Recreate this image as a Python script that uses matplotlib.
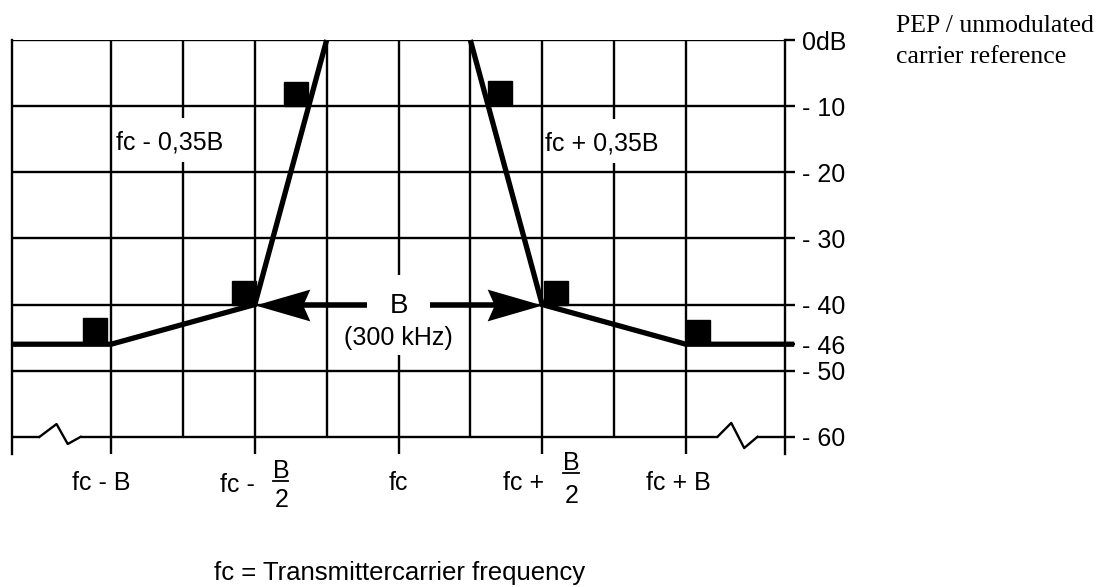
import matplotlib
matplotlib.use("Agg")
import matplotlib.pyplot as plt
from matplotlib.path import Path
from matplotlib.patches import Rectangle

# ---------------- data (x in units of B relative to fc, y in dB) ----------------
left_trace_x = [-1.345, -1.0, -0.5, -0.25]
left_trace_y = [-46, -46, -40, 0]
right_trace_x = [0.25, 0.5, 1.0, 1.377]
right_trace_y = [0, -40, -46, -46]

mask_x = [-1.056, -0.537, -0.357, 0.353, 0.548, 1.043]
mask_y = [-43.9, -38.3, -8.2, -8.0, -38.2, -44.1]

ytick_values = [0, -10, -20, -30, -40, -46, -50, -60]
ytick_labels = ["0dB", "- 10", "- 20", "- 30", "- 40", "- 46", "- 50", "- 60"]

grid_y = [0, -10, -20, -30, -40, -50]
major_x = [-1.0, -0.5, 0.0, 0.5, 1.0]
minor_x = [-0.75, -0.25, 0.25, 0.75]

# ---------------- figure ----------------
W, H = 1109, 587
fig = plt.figure(figsize=(W / 100, H / 100), dpi=100)
ax = fig.add_axes([12 / W, 1 - 454 / H, 773 / W, 414 / H])
XMIN, XMAX = -1.345, 1.345
YMIN, YMAX = -62.6, 0
ax.set_xlim(XMIN, XMAX)
ax.set_ylim(YMIN, YMAX)

sans = ["Liberation Sans", "DejaVu Sans"]
serif = ["Liberation Serif", "DejaVu Serif"]
GLW = 1.7
FS = 18

for s in ["top", "bottom"]:
    ax.spines[s].set_visible(False)
for s in ["left", "right"]:
    ax.spines[s].set_linewidth(GLW)

ax.set_xticks([])
ax.yaxis.tick_right()
ax.set_yticks(ytick_values)
ax.set_yticklabels(ytick_labels, family=sans, fontsize=FS)
ax.tick_params(axis="y", direction="out", length=7.2, width=GLW, pad=5.0)

# grid
ax.hlines(grid_y, XMIN, XMAX, colors="k", lw=GLW, zorder=1)
ax.vlines(major_x, YMIN, 0, colors="k", lw=GLW, zorder=1)
ax.vlines(minor_x, -60, 0, colors="k", lw=GLW, zorder=1)
# -60 line with break marks
ax.hlines([-60, -60, -60], [XMIN, -1.106, 1.249], [-1.249, 1.110, XMAX],
          colors="k", lw=GLW, zorder=1)
ax.plot([-1.249, -1.19, -1.151, -1.106], [-60, -58.07, -61.09, -60],
        color="k", lw=GLW, zorder=1)
ax.plot([1.110, 1.158, 1.203, 1.249], [-60, -57.9, -61.7, -60],
        color="k", lw=GLW, zorder=1)

# white boxes behind labels
for (x0, y0, w, h) in [(-0.991, -18.45, 0.414, 6.65),
                       (0.508, -18.6, 0.43, 6.65),
                       (-0.2, -47.6, 0.4, 12.1)]:
    ax.add_patch(Rectangle((x0, y0), w, h, facecolor="white",
                           edgecolor="none", zorder=2))

# trace
ax.plot(left_trace_x, left_trace_y, color="k", lw=3.8, zorder=4,
        solid_capstyle="butt", solid_joinstyle="miter", clip_on=False)
ax.plot(right_trace_x, right_trace_y, color="k", lw=3.8, zorder=4,
        solid_capstyle="butt", solid_joinstyle="miter", clip_on=False)

# mask markers
ax.plot(mask_x, mask_y, ls="none", marker="s", ms=17.5, color="k",
        mew=1, mec="k", zorder=5)

# bandwidth arrows
ax.plot([-0.108, -0.4], [-40, -40], color="k", lw=4, solid_capstyle="butt", zorder=4)
ax.plot([0.111, 0.4], [-40, -40], color="k", lw=4, solid_capstyle="butt", zorder=4)
codes = [Path.MOVETO, Path.LINETO, Path.LINETO, Path.LINETO, Path.CLOSEPOLY]
head_l = Path([(0, 0), (1, 0.29), (0.87, 0), (1, -0.29), (0, 0)], codes)
head_r = Path([(0, 0), (-1, 0.29), (-0.87, 0), (-1, -0.29), (0, 0)], codes)
ax.plot([-0.5], [-40], ls="none", marker=head_l, ms=79, mew=0, color="k", zorder=5)
ax.plot([0.5], [-40], ls="none", marker=head_r, ms=79, mew=0, color="k", zorder=5)

ax.text(0.003, -41.28, "B", family=sans, fontsize=20, ha="center", va="baseline", zorder=3)
ax.text(0.0, -46.1, "(300 kHz)", family=sans, fontsize=FS, ha="center", va="baseline", zorder=3)

ax.text(-0.983, -16.5, "fc - 0,35B", family=sans, fontsize=FS, ha="left", va="baseline", zorder=3)
ax.text(0.510, -16.7, "fc + 0,35B", family=sans, fontsize=FS, ha="left", va="baseline", zorder=3)

# bottom frequency labels
base = -68.05
ax.text(-1.033, base, "fc - B", family=sans, fontsize=FS, ha="center", va="baseline")
ax.text(-0.501, base - 0.25, "fc -", family=sans, fontsize=FS, ha="right", va="baseline")
ax.text(-0.408, -65.17, "B", family=sans, fontsize=FS, ha="center", va="center")
ax.plot([-0.435, -0.383], [-66.64, -66.64], color="k", lw=1.3, clip_on=False)
ax.text(-0.408, -69.6, "2", family=sans, fontsize=FS, ha="center", va="center")
ax.text(0.0, base, "fc", family=sans, fontsize=FS, ha="center", va="baseline")
ax.text(0.508, base, "fc +", family=sans, fontsize=FS, ha="right", va="baseline")
ax.text(0.601, -64.0, "B", family=sans, fontsize=FS, ha="center", va="center")
ax.plot([0.571, 0.629], [-65.5, -65.5], color="k", lw=1.3, clip_on=False)
ax.text(0.601, -69.0, "2", family=sans, fontsize=FS, ha="center", va="center")
ax.text(0.974, base, "fc + B", family=sans, fontsize=FS, ha="center", va="baseline")

# figure texts
fig.text(895.7 / W, 1 - 32 / H, "PEP / unmodulated", family=serif, fontsize=18.5,
         ha="left", va="baseline")
fig.text(895.7 / W, 1 - 63 / H, "carrier reference", family=serif, fontsize=18.5,
         ha="left", va="baseline")
fig.text(400 / W, 1 - 580 / H, "fc = Transmittercarrier frequency", family=sans,
         fontsize=18.5, ha="center", va="baseline")

fig.savefig("out.png", dpi=100)
